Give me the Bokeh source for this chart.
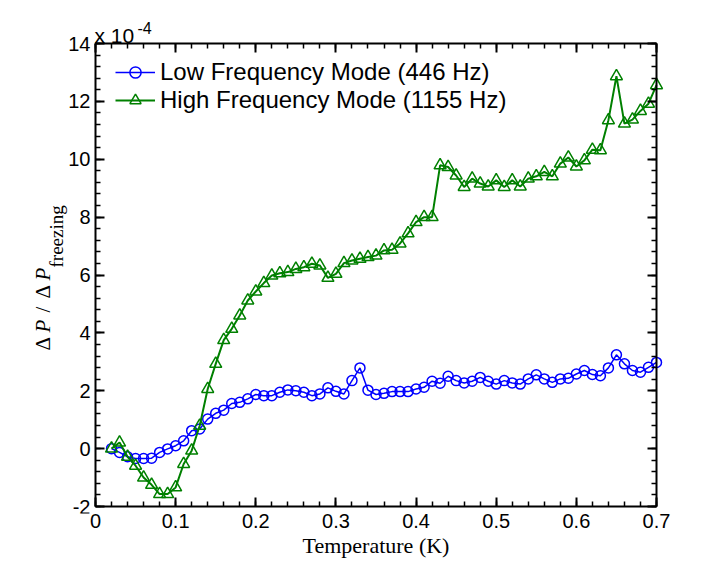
import math
from bokeh.plotting import figure
from bokeh.models import (Range1d, SingleIntervalTicker, LinearAxis, CustomJSTickFormatter,
                          Label, Legend, LegendItem)
from bokeh.embed import file_html
from bokeh.resources import INLINE

# ---- data (values x 1e-4) ----
temperature = [0.02, 0.03, 0.04, 0.05, 0.06, 0.07, 0.08, 0.09, 0.10, 0.11,
               0.12, 0.13, 0.14, 0.15, 0.16, 0.17, 0.18, 0.19, 0.20, 0.21,
               0.22, 0.23, 0.24, 0.25, 0.26, 0.27, 0.28, 0.29, 0.30, 0.31,
               0.32, 0.33, 0.34, 0.35, 0.36, 0.37, 0.38, 0.39, 0.40, 0.41,
               0.42, 0.43, 0.44, 0.45, 0.46, 0.47, 0.48, 0.49, 0.50, 0.51,
               0.52, 0.53, 0.54, 0.55, 0.56, 0.57, 0.58, 0.59, 0.60, 0.61,
               0.62, 0.63, 0.64, 0.65, 0.66, 0.67, 0.68, 0.69, 0.70]

low_freq = [0.00, -0.13, -0.28, -0.34, -0.34, -0.33, -0.13, -0.01, 0.10, 0.27,
            0.62, 0.68, 1.02, 1.22, 1.33, 1.56, 1.60, 1.72, 1.87, 1.83,
            1.83, 1.95, 2.03, 2.00, 1.95, 1.83, 1.89, 2.10, 1.98, 1.89,
            2.35, 2.79, 2.02, 1.87, 1.91, 1.97, 1.97, 1.97, 2.06, 2.12,
            2.33, 2.26, 2.50, 2.35, 2.27, 2.33, 2.46, 2.33, 2.23, 2.35,
            2.27, 2.23, 2.41, 2.55, 2.41, 2.29, 2.41, 2.43, 2.58, 2.70,
            2.56, 2.52, 2.79, 3.24, 2.93, 2.70, 2.64, 2.81, 2.98]

high_freq = [0.00, 0.21, -0.28, -0.59, -1.00, -1.25, -1.57, -1.57, -1.34, -0.53,
             -0.07, 0.79, 2.06, 2.93, 3.75, 4.14, 4.60, 5.12, 5.43, 5.72,
             5.98, 6.06, 6.10, 6.21, 6.27, 6.39, 6.33, 5.90, 6.04, 6.41,
             6.50, 6.56, 6.62, 6.67, 6.85, 6.87, 7.09, 7.44, 7.83, 8.00,
             8.00, 9.79, 9.73, 9.44, 9.04, 9.33, 9.16, 9.06, 9.27, 9.04,
             9.27, 9.06, 9.33, 9.41, 9.56, 9.41, 9.85, 10.06, 9.75, 9.96,
             10.33, 10.31, 11.35, 12.87, 11.23, 11.37, 11.67, 11.92, 12.56]

low_label = "Low Frequency Mode (446 Hz)"
high_label = "High Frequency Mode (1155 Hz)"
x_label = "Temperature (K)"
exp_base = "x 10"
exp_power = "-4"
ylab_parts = ["Δ", "P", "/", "Δ", "P"]
ylab_styles = ["normal", "italic", "normal", "normal", "italic"]
ylab_sub = "freezing"

X0, X1 = 0.0, 0.7
Y0, Y1 = -2.0, 14.0

BLUE = "#0000FF"
GREEN = "#008000"
SANS = "Liberation Sans"
SERIF = "Liberation Serif"

W, H = 726, 571
# the visible box (axes) sits at page pixels x 95..656, y 43..506;
# the drawing frame is larger so that the texts around the box are not clipped.
BOX_L, BOX_R, BOX_T, BOX_B = 95, 656, 43, 506
FR_L, FR_R, FR_T, FR_B = 28, 723, 4, 513
ppx = (BOX_R - BOX_L) / (X1 - X0)
ppy = (BOX_B - BOX_T) / (Y1 - Y0)

p = figure(width=W, height=H, output_backend="svg", toolbar_location=None,
           x_range=Range1d(X0 - (BOX_L - FR_L) / ppx, X1 + (FR_R - BOX_R) / ppx),
           y_range=Range1d(Y0 - (FR_B - BOX_B) / ppy, Y1 + (BOX_T - FR_T) / ppy),
           x_axis_type=None, y_axis_type=None,
           min_border_left=FR_L, min_border_right=W - FR_R,
           min_border_top=FR_T, min_border_bottom=H - FR_B)
p.xgrid.visible = False
p.ygrid.visible = False
p.outline_line_color = None
p.background_fill_color = "white"
p.border_fill_color = "white"

xt = SingleIntervalTicker(interval=0.1, num_minor_ticks=5)
yt = SingleIntervalTicker(interval=2, num_minor_ticks=5)
xfmt = CustomJSTickFormatter(code="return String(Number(tick.toFixed(2)));")
yfmt = CustomJSTickFormatter(code="return tick.toFixed(0);")
blank = CustomJSTickFormatter(code="return '';")
xb = (X0, X1 + 1e-7)
yb = (Y0, Y1)
LW = 2


def mk_axis(ticker, fmt, bounds, size="20px", **kw):
    opts = dict(major_tick_in=9, major_tick_out=0, minor_tick_in=5, minor_tick_out=0,
                axis_line_width=LW, major_tick_line_width=LW, minor_tick_line_width=1.5,
                axis_line_color="black", major_tick_line_color="black",
                minor_tick_line_color="black")
    opts.update(kw)
    return LinearAxis(ticker=ticker, formatter=fmt, bounds=bounds,
                      major_label_text_font=SANS, major_label_text_font_size=size,
                      major_label_text_color="black", **opts)


# box edges (drawn at the box position inside the larger frame)
bottom_box = mk_axis(xt, blank, xb, size="0px", major_label_standoff=0, fixed_location=Y0)
left = mk_axis(yt, yfmt, yb, major_label_standoff=5, fixed_location=X0)
top = mk_axis(xt, blank, xb, size="0px", major_label_standoff=0, fixed_location=Y1)
right = mk_axis(yt, blank, yb, size="0px", major_label_standoff=0, fixed_location=X1)
# x tick labels and axis title, below the frame
bottom_labels = mk_axis(xt, xfmt, xb, major_label_standoff=0,
                        axis_line_color=None, major_tick_line_color=None,
                        minor_tick_line_color=None, major_tick_in=0, minor_tick_in=0,
                        axis_label=x_label, axis_label_text_font=SERIF,
                        axis_label_text_font_size="22px", axis_label_text_font_style="normal",
                        axis_label_text_color="black", axis_label_standoff=2)
p.add_layout(bottom_box, "below")
p.add_layout(bottom_labels, "below")
p.add_layout(left, "left")
p.add_layout(top, "above")
p.add_layout(right, "right")

r1 = p.line(temperature, low_freq, line_color=BLUE, line_width=1.5)
m1 = p.scatter(temperature, low_freq, marker="circle", size=10, fill_color=None,
               line_color=BLUE, line_width=1.5)
r2 = p.line(temperature, high_freq, line_color=GREEN, line_width=2)
m2 = p.scatter(temperature, high_freq, marker="triangle", size=12, fill_color=None,
               line_color=GREEN, line_width=1.5)

legend = Legend(items=[LegendItem(label=low_label, renderers=[r1, m1]),
                       LegendItem(label=high_label, renderers=[r2, m2])],
                location=(115 - FR_L, 392 + (FR_B - BOX_B)), border_line_color=None,
                background_fill_alpha=0,
                label_text_font=SANS, label_text_font_size="24px", label_text_color="black",
                glyph_width=40, glyph_height=28, label_height=28, spacing=0,
                padding=0, margin=0, label_standoff=5)
p.add_layout(legend)


def lab(px, py, text, size, font=SANS, style="normal", angle=0.0):
    # px, py: page pixels from the left / top; converted to frame-relative screen units
    p.add_layout(Label(x=px - FR_L, y=FR_B - py, x_units="screen", y_units="screen",
                       text=text, angle=angle, text_font=font, text_font_size=f"{size}px",
                       text_font_style=style, text_color="black", text_align="left",
                       text_baseline="alphabetic"))


# exponent "x 10^-4"
lab(94, 35, exp_base, 21)
lab(137, 27, exp_power, 16)

# y label  Δ P / Δ P_freezing  (rotated)
ang = math.pi / 2
for txt, st, py in zip(ylab_parts, ylab_styles, [350, 332, 312, 298, 280]):
    lab(42, py, txt, 21, font=SERIF, style=st, angle=ang)
lab(56, 267, ylab_sub, 19, font=SERIF, angle=ang)

open("out.html", "w").write(file_html(p, INLINE))
